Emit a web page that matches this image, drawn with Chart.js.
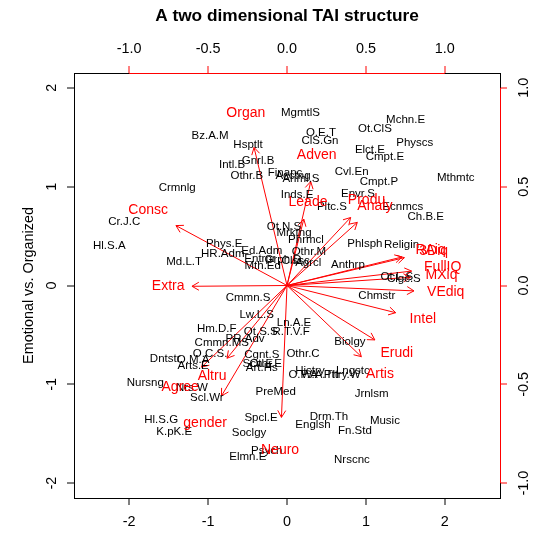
<!DOCTYPE html>
<html>
<head>
<meta charset="utf-8">
<script src="https://cdn.jsdelivr.net/npm/chart.js@4.4.1/dist/chart.umd.min.js"></script>
<style>
  html, body { margin: 0; padding: 0; background: #ffffff; }
  #wrap { width: 538px; height: 535px; position: relative; }
</style>
</head>
<body>
<div id="wrap"><canvas id="c"></canvas></div>
<script>
// ---- Observation scores (majors), on the bottom/left scale ----
const majorNames = [
  'MgmtlS','Bz.A.M','Hsptlt','Gnrl.B','Intl.B','Othr.B','Financ','Acctng','Anml.S','Crmnlg',
  'Cr.J.C','Inds.E','Ot.N.S','Mrktng','O.E.T','ClS.Gn','Mchn.E','Ot.ClS','Physcs','Elct.E',
  'Cmpt.E','Cvl.En','Cmpt.P','Mthmtc','Envr.S','Ecnmcs','Pltc.S','Ch.B.E','Hl.S.A','Phys.E',
  'HR.Adm','Md.L.T','Ed.Adm','Entrpr','Mth.Ed','Cmmn.S','Lw.L.S','Hm.D.F','Ot.S.S','R.T.V.F',
  'Ln.A.E','PR.Adv','Cmmn.MS','O.C.S.','Dntstr','Phrmcl','Phlsph','Religin','Chmstr','Anthrp',
  'Othr.M','Ot.L.S','Clgc.S','Biolgy','Othr.C','O.M.A','Arts.E','Nursng','Nrs.W','Scl.Wr',
  'Cgnt.S','Scn.E','Othr.E','Art.Hs','PreMed','Hl.S.G','K.pK.E','Spcl.E','Soclgy','Psych',
  'Elmn.E','Histry','O.P.A','W.A.Th','Pttry.W','Lngstc','Jrnlsm','Drm.Th','Englsh','Fn.Std',
  'Music','Nrscnc','Grph.D','Clssc','Agrcl'
];
const majorX = [
   0.171,-0.975,-0.494,-0.367,-0.696,-0.510,-0.025, 0.076, 0.177,-1.392,
  -2.063, 0.127,-0.038, 0.089, 0.430, 0.418, 1.503, 1.114, 1.620, 1.051,
   1.241, 0.819, 1.165, 2.139, 0.899, 1.468, 0.570, 1.759,-2.253,-0.797,
  -0.814,-1.304,-0.320,-0.342,-0.308,-0.494,-0.384,-0.890,-0.333, 0.051,
   0.089,-0.532,-0.827,-0.975,-1.544, 0.241, 0.987, 1.452, 1.139, 0.772,
   0.278, 1.392, 1.481, 0.797, 0.203,-1.190,-1.190,-1.797,-1.206,-1.016,
  -0.320,-0.370,-0.270,-0.320,-0.143,-1.595,-1.430,-0.329,-0.481,-0.257,
  -0.497, 0.291, 0.203, 0.420, 0.700, 0.835, 1.072, 0.532, 0.329, 0.861,
   1.241, 0.823,-0.050, 0.110, 0.270
];
const majorY = [
   1.749, 1.517, 1.426, 1.264, 1.223, 1.112, 1.143, 1.112, 1.082, 0.991,
   0.647, 0.920, 0.597, 0.536, 1.547, 1.466, 1.678, 1.587, 1.446, 1.375,
   1.304, 1.153, 1.052, 1.085, 0.930, 0.799, 0.799, 0.698, 0.404, 0.425,
   0.324, 0.243, 0.354, 0.273, 0.195,-0.121,-0.293,-0.435,-0.465,-0.465,
  -0.374,-0.536,-0.576,-0.688,-0.738, 0.465, 0.425, 0.415,-0.108, 0.212,
   0.337, 0.091, 0.071,-0.573,-0.688,-0.755,-0.809,-0.981,-1.031,-1.132,
  -0.698,-0.789,-0.789,-0.829,-1.072,-1.355,-1.476,-1.335,-1.486,-1.675,
  -1.729,-0.867,-0.900,-0.900,-0.900,-0.867,-1.092,-1.325,-1.405,-1.466,
  -1.365,-1.759, 0.263, 0.253, 0.233
];

// ---- Variable loadings (traits), on the top/right scale ----
const traitNames = ['Organ','Adven','Leade','Produ','Analy','Consc','Extra','RAiq','3Diq',
  'FullIQ','MXiq','VEdiq','Intel','Erudi','Artis','Altru','Agree','gender','Neuro'];
const traitX = [-0.261, 0.188, 0.133, 0.504, 0.557,-0.880,-0.753, 0.910, 0.930,
   0.987, 0.979, 1.006, 0.861, 0.696, 0.589,-0.475,-0.677,-0.519,-0.044];
const traitY = [ 0.873, 0.657, 0.420, 0.430, 0.399, 0.379,-0.005, 0.180, 0.176,
   0.091, 0.052,-0.034,-0.172,-0.344,-0.450,-0.460,-0.516,-0.698,-0.834];

// Tick values of the four axes
const bottomTicks = [-2, -1, 0, 1, 2];
const leftTicks = [-2, -1, 0, 1, 2];
const topTicks = [-1.0, -0.5, 0.0, 0.5, 1.0];
const rightTicks = [-1.0, -0.5, 0.0, 0.5, 1.0];

const FONT = '"Liberation Sans", Arial, Helvetica, sans-serif';
const RED = '#ff0000';
const ARROW_FRAC = 0.8;   // arrows stop short of their labels, as in a classic biplot

const datasets = [{
  label: 'majors',
  data: majorNames.map((n, i) => ({ x: majorX[i], y: majorY[i] })),
  pointRadius: 0, pointHoverRadius: 0, showLine: false,
  xAxisID: 'x', yAxisID: 'y'
}];
traitNames.forEach((n, i) => {
  datasets.push({
    label: n,
    data: [{ x: 0, y: 0 }, { x: traitX[i] * ARROW_FRAC, y: traitY[i] * ARROW_FRAC }],
    showLine: true, borderColor: RED, borderWidth: 1, pointRadius: 0, pointHoverRadius: 0,
    xAxisID: 'x2', yAxisID: 'y2'
  });
});

function fixedTicks(values) {
  return function (scale) { scale.ticks = values.map(v => ({ value: v })); };
}

const decor = {
  id: 'biplotDecor',
  afterDatasetsDraw(chart) {
    const ctx = chart.ctx;
    const sx = chart.scales.x, sy = chart.scales.y, sx2 = chart.scales.x2, sy2 = chart.scales.y2;
    ctx.save();
    // open arrowheads
    ctx.strokeStyle = RED; ctx.lineWidth = 1;
    const ox = sx2.getPixelForValue(0), oy = sy2.getPixelForValue(0);
    traitNames.forEach((n, i) => {
      const tx = sx2.getPixelForValue(traitX[i] * ARROW_FRAC);
      const ty = sy2.getPixelForValue(traitY[i] * ARROW_FRAC);
      const ang = Math.atan2(ty - oy, tx - ox);
      const L = 8, phi = Math.PI / 6;
      ctx.beginPath();
      ctx.moveTo(tx - L * Math.cos(ang - phi), ty - L * Math.sin(ang - phi));
      ctx.lineTo(tx, ty);
      ctx.lineTo(tx - L * Math.cos(ang + phi), ty - L * Math.sin(ang + phi));
      ctx.stroke();
    });
    // labels
    ctx.textAlign = 'center'; ctx.textBaseline = 'middle';
    ctx.fillStyle = '#000000'; ctx.font = '11.5px ' + FONT;
    majorNames.forEach((n, i) => {
      ctx.fillText(n, sx.getPixelForValue(majorX[i]), sy.getPixelForValue(majorY[i]));
    });
    ctx.fillStyle = RED; ctx.font = '14px ' + FONT;
    traitNames.forEach((n, i) => {
      ctx.fillText(n, sx2.getPixelForValue(traitX[i]), sy2.getPixelForValue(traitY[i]));
    });
    ctx.restore();
  },
  afterDraw(chart) {
    const ctx = chart.ctx, a = chart.chartArea;
    const sy = chart.scales.y, sx2 = chart.scales.x2, sy2 = chart.scales.y2;
    ctx.save();
    // plot frame
    ctx.strokeStyle = '#000000'; ctx.lineWidth = 1;
    ctx.strokeRect(Math.round(a.left) + 0.5, Math.round(a.top) + 0.5,
                   Math.round(a.right - a.left), Math.round(a.bottom - a.top));
    // red axis lines of the loading scales
    ctx.strokeStyle = RED;
    ctx.beginPath();
    ctx.moveTo(sx2.getPixelForValue(topTicks[0]), Math.round(a.top) + 0.5);
    ctx.lineTo(sx2.getPixelForValue(topTicks[topTicks.length - 1]), Math.round(a.top) + 0.5);
    ctx.moveTo(Math.round(a.right) + 0.5, sy2.getPixelForValue(rightTicks[0]));
    ctx.lineTo(Math.round(a.right) + 0.5, sy2.getPixelForValue(rightTicks[rightTicks.length - 1]));
    ctx.stroke();
    // rotated tick labels on the vertical axes
    ctx.fillStyle = '#000000'; ctx.font = '14.4px ' + FONT;
    ctx.textAlign = 'center'; ctx.textBaseline = 'middle';
    leftTicks.forEach(v => {
      ctx.save(); ctx.translate(a.left - 22, sy.getPixelForValue(v)); ctx.rotate(-Math.PI / 2);
      ctx.fillText(String(v), 0, 0); ctx.restore();
    });
    rightTicks.forEach(v => {
      ctx.save(); ctx.translate(a.right + 24, sy2.getPixelForValue(v)); ctx.rotate(-Math.PI / 2);
      ctx.fillText(v.toFixed(1), 0, 0); ctx.restore();
    });
    // y axis title
    ctx.save(); ctx.translate(29, (a.top + a.bottom) / 2); ctx.rotate(-Math.PI / 2);
    ctx.fillText('Emotional vs. Organized', 0, 0); ctx.restore();
    // main title
    ctx.font = 'bold 17.3px ' + FONT;
    ctx.fillText('A two dimensional TAI structure', (a.left + a.right) / 2, 16);
    ctx.restore();
  }
};

const tickGrid = color => ({
  display: true, drawOnChartArea: false, drawTicks: true,
  tickLength: 7, tickColor: color, tickWidth: 1, lineWidth: 0
});

new Chart(document.getElementById('c'), {
  type: 'scatter',
  data: { datasets },
  options: {
    responsive: true, maintainAspectRatio: false, devicePixelRatio: 1,
    animation: false, events: [],
    layout: { padding: 0 },
    plugins: { legend: { display: false }, tooltip: { enabled: false }, title: { display: false } },
    scales: {
      x: {
        type: 'linear', position: 'bottom', min: -2.7, max: 2.7,
        afterBuildTicks: fixedTicks(bottomTicks),
        ticks: { color: '#000', font: { family: FONT, size: 14.4 }, padding: 8,
                 maxRotation: 0, autoSkip: false, callback: v => String(v) },
        grid: tickGrid('#000'), border: { display: false },
        afterFit: s => { s.height = 37; }
      },
      y: {
        type: 'linear', position: 'left', min: -2.15, max: 2.15,
        afterBuildTicks: fixedTicks(leftTicks),
        ticks: { display: false },
        grid: tickGrid('#000'), border: { display: false },
        afterFit: s => { s.width = 74; }
      },
      x2: {
        type: 'linear', position: 'top', min: -1.35, max: 1.35,
        afterBuildTicks: fixedTicks(topTicks),
        ticks: { color: '#000', font: { family: FONT, size: 14.4 }, padding: 8,
                 maxRotation: 0, autoSkip: false, callback: v => Number(v).toFixed(1) },
        grid: tickGrid(RED), border: { display: false },
        afterFit: s => { s.height = 73; }
      },
      y2: {
        type: 'linear', position: 'right', min: -1.075, max: 1.075,
        afterBuildTicks: fixedTicks(rightTicks),
        ticks: { display: false },
        grid: tickGrid(RED), border: { display: false },
        afterFit: s => { s.width = 38; }
      }
    }
  },
  plugins: [decor]
});
</script>
</body>
</html>
